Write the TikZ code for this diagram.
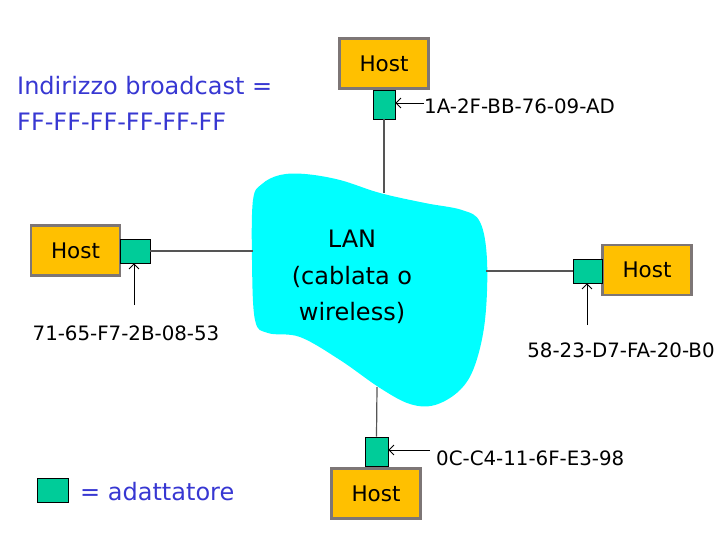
\documentclass[tikz,border=0pt]{standalone}
\usepackage{fontspec}
\setmainfont{DejaVu Sans}
\usetikzlibrary{calc}
\usetikzlibrary{positioning}
\usetikzlibrary{arrows.meta}

\definecolor{hostfill}{RGB}{255,192,0}
\definecolor{hostedge}{RGB}{125,118,118}
\definecolor{nicfill}{RGB}{0,204,153}
\definecolor{lanfill}{RGB}{0,255,255}
\definecolor{notecol}{RGB}{55,55,210}
\definecolor{wirecol}{RGB}{85,85,85}

\tikzset{
  host/.style={draw=hostedge, fill=hostfill, line width=2.4pt,
    minimum width=89pt, minimum height=50pt, font=\fontsize{21.5}{25}\selectfont},
  nic/.style={draw=black, fill=nicfill, line width=0.8pt, inner sep=0pt},
  wire/.style={draw=wirecol, line width=1.2pt},
  ptr/.style={-{Straight Barb[length=5pt,width=10pt]}, line width=0.8pt},
  mac/.style={font=\fontsize{19.8}{23}\selectfont, inner sep=0pt},
  note/.style={text=notecol, font=\fontsize{24}{36}\selectfont, inner sep=0pt},
}

\begin{document}
\begin{tikzpicture}[x=1pt, y=-1pt]
    \useasboundingbox (0,0) rectangle (725,558);

    % the LAN cloud
    \fill[lanfill] plot[smooth cycle, tension=0.6] coordinates {
      (253,200) (262,184) (280,175) (305,174) (340,180) (380,193)
      (425,203) (462,210) (480,222) (487,260) (485,320) (475,365)
      (460,390) (435,405) (410,404) (380,388) (340,360) (300,337)
      (268,333) (255,320) (252,260)};
    \node[align=center, font=\fontsize{24}{36.5}\selectfont] (lan) at (352,277)
      {LAN\\(cablata o\\wireless)};

    \coordinate (c1) at (384,193);
    \coordinate (c2) at (253,251);
    \coordinate (c3) at (486,271);
    \coordinate (c4) at (377,387);

    % hosts and their adapters
    \foreach \i/\hx/\hy/\ax/\ay/\aw/\ah in {1/384/63.5/384/104.5/22/29,
        2/75.5/250.5/135/251/30/24, 3/647/270/587.5/271/29/24,
        4/376/493.5/376.5/451.5/23/29}{
      \node[host] (h\i) at (\hx,\hy) {Host};
      \node[nic, minimum width=\aw pt, minimum height=\ah pt] (a\i) at (\ax,\ay) {};
    }

    \draw[wire] (a1.south) -- (c1);
    \draw[wire] (a2.east) -- (c2);
    \draw[wire] (a3.west) -- (c3);
    \draw[wire] (a4.north) -- (c4);

    % MAC addresses
    \node[mac, anchor=west] (l1) at (424,106) {1A-2F-BB-76-09-AD};
    \node[mac] (l2) at (126,333) {71-65-F7-2B-08-53};
    \node[mac] (l3) at (621,350) {58-23-D7-FA-20-B0};
    \node[mac, anchor=west] (l4) at (436,458) {0C-C4-11-6F-E3-98};

    \coordinate (p1) at (424,103);
    \coordinate (p2) at (134,305);
    \coordinate (p3) at (587,325);
    \coordinate (p4) at (430,450);
    \draw[ptr] (p1) -- (p1 -| a1.east);
    \draw[ptr] (p2) -- (p2 |- a2.south);
    \draw[ptr] (p3) -- (p3 |- a3.south);
    \draw[ptr] (p4) -- (p4 -| a4.east);

    % notes
    \node[note, anchor=west, align=left] (bcast) at (17,103)
      {Indirizzo broadcast =\\FF-FF-FF-FF-FF-FF};
    \node[nic, minimum width=31pt, minimum height=24pt] (key) at (52.5,490) {};
    \node[note, anchor=west] (keytext) at (80,492) {= adattatore};

  \end{tikzpicture}
\end{document}
